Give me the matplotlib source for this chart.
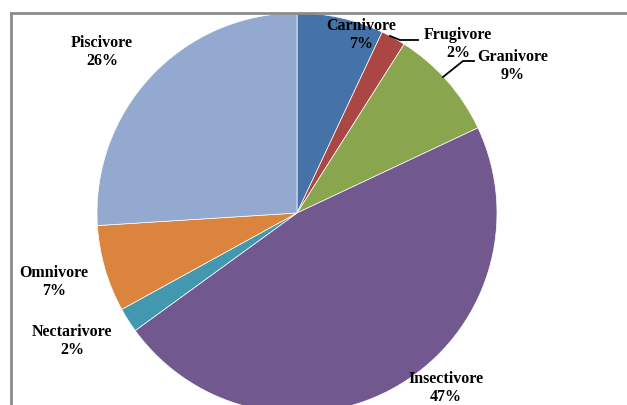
import matplotlib.pyplot as plt
from matplotlib.lines import Line2D

# diet categories and their share (%)
categories = ['Carnivore', 'Frugivore', 'Granivore', 'Insectivore',
              'Nectarivore', 'Omnivore', 'Piscivore']
shares = [7, 2, 9, 47, 2, 7, 26]
colors = ['#4572A7', '#AA4643', '#89A54E', '#71588F',
          '#4198AF', '#DB843D', '#93A9CF']

# label spots, in pixels of the 627x405 picture
label_px = [(361, 35), (458, 44), (513, 66), (446, 388),
            (72, 341), (54, 282), (102, 52)]

W, H = 627, 405
cx, cy, r = 297, 213, 200

fig = plt.figure(figsize=(W / 100, H / 100), dpi=100)
ax = fig.add_axes([(cx - r) / W, (H - cy - r) / H, 2 * r / W, 2 * r / H])
ax.pie(shares, colors=colors, startangle=90, counterclock=False,
       radius=1, wedgeprops=dict(linewidth=0.5, edgecolor='white'))
ax.set_xlim(-1, 1)
ax.set_ylim(-1, 1)
ax.set_aspect('equal')
ax.axis('off')

def to_data(px, py):
    return (px - cx) / r, (cy - py) / r

for name, val, (px, py) in zip(categories, shares, label_px):
    x, y = to_data(px, py)
    ax.text(x, y, f'{name}\n{val}%', ha='center', va='center',
            fontsize=11.5, fontweight='bold', family='Liberation Serif',
            linespacing=1.1, clip_on=False)

# leader lines
for pts in [[(390, 36), (400, 40), (418, 40)],
            [(443, 77), (463, 61), (474, 61)]]:
    xs, ys = zip(*[to_data(*p) for p in pts])
    ax.plot(xs, ys, color='black', linewidth=1.3, clip_on=False)

# chart frame
fig.add_artist(Line2D([11 / W, 11 / W], [0, 1 - 13 / H], color='#8c8c8c',
                      linewidth=2, transform=fig.transFigure))
fig.add_artist(Line2D([11 / W, 1], [1 - 13 / H, 1 - 13 / H], color='#8c8c8c',
                      linewidth=2, transform=fig.transFigure))

fig.savefig('out.png', dpi=100)
